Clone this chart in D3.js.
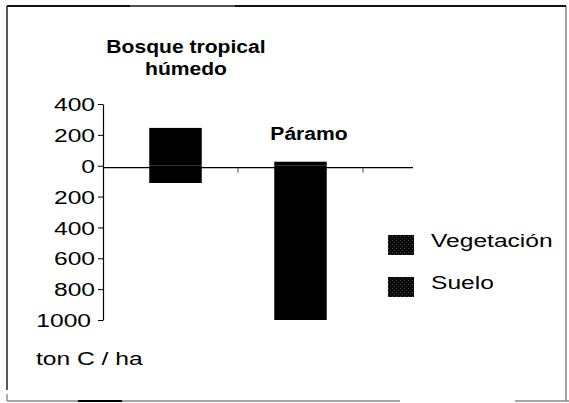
<!DOCTYPE html>
<html>
<head>
<meta charset="utf-8">
<script src="https://cdn.jsdelivr.net/npm/d3@7"></script>
<style>
  html, body { margin: 0; padding: 0; background: #fff; }
  svg { display: block; }
  text { font-family: "Liberation Sans", Arial, Helvetica, sans-serif; fill: #000; }
</style>
</head>
<body>
<svg id="chart" width="569" height="403"></svg>
<script>
// ---- data ----
const categories = ["Bosque tropical húmedo", "Páramo"];
const categoryLabels = [["Bosque tropical", "húmedo"], ["Páramo"]];
const vegetacion = [245, 26];     // ton C / ha (above zero)
const suelo = [112, 1000];        // ton C / ha (below zero)
const yTicks = [400, 200, 0, -200, -400, -600, -800, -1000];
const seriesNames = ["Vegetación", "Suelo"];
const unitLabel = "ton C / ha";

// ---- layout ----
const svg = d3.select("#chart");
const axisX = 103;
const SX = 1.33;   // horizontal stretch of regular text
const SXB = 1.14;  // horizontal stretch of bold text

const y = d3.scaleLinear().domain([-1000, 400]).range([320, 104]);
const x = d3.scaleBand().domain(categories).range([113, 363]).padding(0);
const barW = x.bandwidth() * 0.42;

// pattern for legend swatches
const defs = svg.append("defs");
const pat = defs.append("pattern").attr("id", "dots").attr("patternUnits", "userSpaceOnUse")
  .attr("width", 4).attr("height", 4);
pat.append("rect").attr("width", 4).attr("height", 4).attr("fill", "#0a0a0a");
pat.append("rect").attr("x", 0).attr("y", 0).attr("width", 1).attr("height", 1).attr("fill", "#4a4a4a");
pat.append("rect").attr("x", 2).attr("y", 2).attr("width", 1).attr("height", 1).attr("fill", "#333");

// frame
const frame = svg.append("g").attr("fill", "none");
frame.append("line").attr("x1", 7).attr("y1", 6).attr("x2", 566).attr("y2", 6).attr("stroke", "#111").attr("stroke-width", 2);
frame.append("line").attr("x1", 130).attr("y1", 6).attr("x2", 235).attr("y2", 6).attr("stroke", "#666").attr("stroke-width", 1.5);
frame.append("line").attr("x1", 7).attr("y1", 6).attr("x2", 7).attr("y2", 390).attr("stroke", "#222").attr("stroke-width", 1.5);
frame.append("line").attr("x1", 7).attr("y1", 394).attr("x2", 7).attr("y2", 401).attr("stroke", "#555").attr("stroke-width", 1);
frame.append("line").attr("x1", 566).attr("y1", 6).attr("x2", 566).attr("y2", 401).attr("stroke", "#444").attr("stroke-width", 1);
frame.append("line").attr("x1", 7).attr("y1", 401).attr("x2", 400).attr("y2", 401).attr("stroke", "#888").attr("stroke-width", 1.5);
frame.append("line").attr("x1", 78).attr("y1", 401).attr("x2", 122).attr("y2", 401).attr("stroke", "#000").attr("stroke-width", 2);
frame.append("line").attr("x1", 515).attr("y1", 401).attr("x2", 569).attr("y2", 401).attr("stroke", "#888").attr("stroke-width", 1.5);

// y axis
const yAxis = d3.axisLeft(y).tickValues(yTicks).tickSize(5).tickSizeOuter(0)
  .tickFormat(d => String(Math.abs(d)));
const gy = svg.append("g").attr("transform", `translate(${axisX},0)`).call(yAxis);
gy.select(".domain").attr("stroke", "#000").attr("stroke-width", 1.2);
gy.selectAll(".tick line").attr("stroke", "#000").attr("stroke-width", 1);
gy.selectAll(".tick text")
  .attr("fill", "#000")
  .style("font-size", "18.5px")
  .style("font-family", '"Liberation Sans", Arial, sans-serif')
  .attr("x", d => (d === -1000 ? -12 : -8) / SX)
  .attr("dy", "0.36em")
  .attr("transform", `scale(${SX},1)`);

// bars
const g = svg.append("g");
g.selectAll("rect.veg").data(categories).join("rect").attr("class", "veg")
  .attr("x", d => x(d) + (x.bandwidth() - barW) / 2)
  .attr("width", barW)
  .attr("y", (d, i) => y(vegetacion[i]))
  .attr("height", (d, i) => y(0) - y(vegetacion[i]))
  .attr("fill", "#000");
g.selectAll("rect.soil").data(categories).join("rect").attr("class", "soil")
  .attr("x", d => x(d) + (x.bandwidth() - barW) / 2)
  .attr("width", barW)
  .attr("y", y(0))
  .attr("height", (d, i) => y(-suelo[i]) - y(0))
  .attr("fill", "#000");

// zero line with category ticks
const zy = y(0) + 2;
g.append("line").attr("x1", axisX).attr("x2", x.range()[1] + 50)
  .attr("y1", zy).attr("y2", zy).attr("stroke", "#000").attr("stroke-width", 1.3);
g.selectAll("line.ct").data(categories).join("line").attr("class", "ct")
  .attr("x1", d => x(d) + x.bandwidth()).attr("x2", d => x(d) + x.bandwidth())
  .attr("y1", zy).attr("y2", zy + 5).attr("stroke", "#444").attr("stroke-width", 1);

// category labels
function stretchedText(parent, tx, ty, str, size, weight, sx, anchor) {
  return parent.append("text")
    .attr("transform", `translate(${tx},${ty}) scale(${sx},1)`)
    .attr("text-anchor", anchor)
    .style("font-size", size + "px")
    .style("font-weight", weight)
    .text(str);
}
const labelPos = [{cx: 186, y0: 53}, {cx: 309, y0: 140}];
categoryLabels.forEach((lines, i) => {
  lines.forEach((ln, j) => {
    stretchedText(svg, labelPos[i].cx, labelPos[i].y0 + j * 22, ln, 18.5, "bold", SXB, "middle");
  });
});

// unit label
stretchedText(svg, 36, 365, unitLabel, 18.5, "normal", SX, "start");

// legend
const legend = svg.append("g");
seriesNames.forEach((name, i) => {
  const ly = 235 + i * 42;
  legend.append("rect").attr("x", 388).attr("y", ly).attr("width", 26).attr("height", 20)
    .attr("fill", "url(#dots)");
  stretchedText(legend, 431, ly + 12, name, 18.5, "normal", SX, "start");
});
</script>
</body>
</html>
